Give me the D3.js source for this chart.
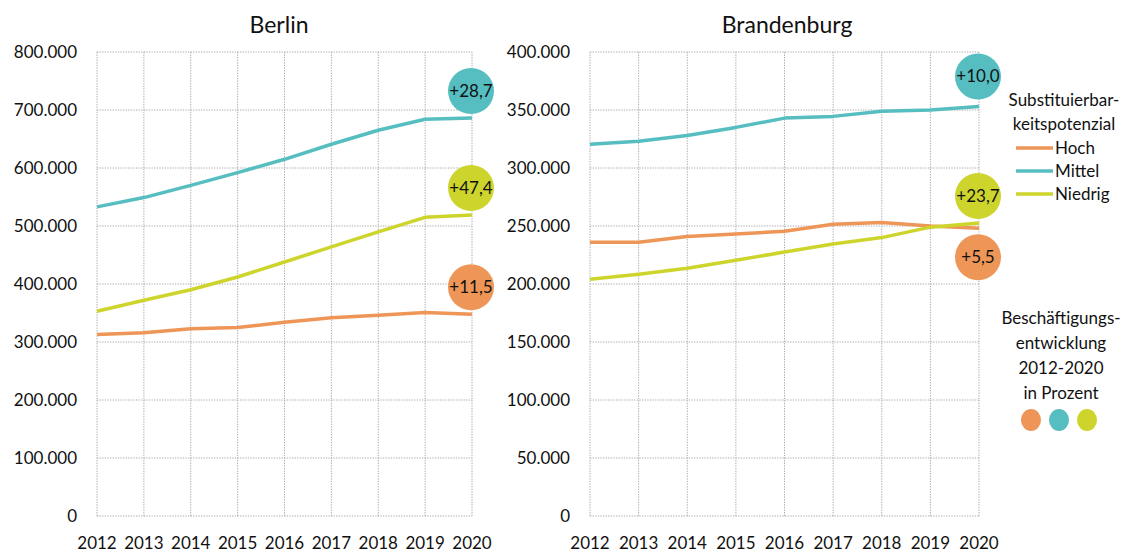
<!DOCTYPE html>
<html>
<head>
<meta charset="utf-8">
<script src="https://cdn.jsdelivr.net/npm/d3@7"></script>
<style>
  body { margin: 0; background: #fff; }
  text { font-family: Lato, "Open Sans", sans-serif; fill: #111; }
</style>
</head>
<body>
<div class="chart"></div>
<script>
// data
var years = [2012, 2013, 2014, 2015, 2016, 2017, 2018, 2019, 2020];
var seriesNames = ["Hoch", "Mittel", "Niedrig"];

var berlinHoch    = [313000, 316000, 323000, 325000, 334000, 342000, 346000, 351000, 348000];
var berlinMittel  = [533000, 549000, 570000, 592000, 615000, 641000, 665000, 684000, 686000];
var berlinNiedrig = [353000, 372000, 390000, 412000, 438000, 464000, 490000, 515000, 519000];
var berlinChange  = [11.5, 28.7, 47.4];

var brbHoch    = [236000, 236000, 241000, 243000, 245500, 251500, 253000, 250000, 248000];
var brbMittel  = [320500, 323000, 328000, 335000, 343000, 344500, 349000, 350000, 353000];
var brbNiedrig = [204000, 208500, 213500, 220500, 227500, 234500, 240000, 249000, 252500];
var brbChange  = [5.5, 10.0, 23.7];

var colors = ["#ee9658", "#56bec0", "#cdd52c"];

// german number format
var de = d3.formatLocale({ decimal: ",", thousands: ".", grouping: [3], currency: ["", " €"] });
var fmtNum = de.format(",.0f");
var fmtPct = de.format("+.1f");

var W = 1131, H = 554;
var svg = d3.select(".chart").append("svg")
  .attr("width", W).attr("height", H);

// one panel per region
function panel(opt) {
  var x = d3.scaleLinear().domain([years[0], years[years.length - 1]]).range([opt.x0, opt.x1]);
  var y = d3.scaleLinear().domain([0, opt.yMax]).range([516, 52]);
  var g = svg.append("g");

  // dotted grid incl. frame
  var ticks = d3.range(0, opt.yMax + 1, opt.yStep);
  g.selectAll(".hgrid").data(ticks).enter().append("line")
    .attr("x1", opt.x0).attr("x2", opt.x1)
    .attr("y1", d => y(d)).attr("y2", d => y(d))
    .attr("stroke", "#a8a8a8").attr("stroke-dasharray", "1.3,1.3");
  g.selectAll(".vgrid").data(years).enter().append("line")
    .attr("x1", d => x(d)).attr("x2", d => x(d))
    .attr("y1", y(0)).attr("y2", y(opt.yMax))
    .attr("stroke", "#a8a8a8").attr("stroke-dasharray", "1.3,1.3");

  // y labels
  g.selectAll(".ylab").data(ticks).enter().append("text")
    .attr("x", opt.x0 - 20).attr("y", d => y(d)).attr("dy", "0.35em")
    .attr("text-anchor", "end").style("font-size", "17px")
    .text(d => fmtNum(d));

  // x labels
  g.selectAll(".xlab").data(years).enter().append("text")
    .attr("x", d => x(d)).attr("y", 549)
    .attr("text-anchor", "middle").style("font-size", "17px")
    .text(d => d);

  // title
  g.append("text").attr("x", opt.titleX).attr("y", 33)
    .attr("text-anchor", "middle").style("font-size", "23px")
    .text(opt.title);

  var line = d3.line().x((d, i) => x(years[i])).y(d => y(d));
  opt.series.forEach(function (s, i) {
    g.append("path").datum(s)
      .attr("d", line).attr("fill", "none")
      .attr("stroke", colors[i]).attr("stroke-width", 3.5)
      .attr("stroke-linejoin", "round");
  });

  // change bubbles at the end of each line
  opt.series.forEach(function (s, i) {
    var cx = x(years[years.length - 1]) - 1;
    var cy = y(s[s.length - 1]) + opt.bubbleShift[i];
    g.append("circle").attr("cx", cx).attr("cy", cy).attr("r", 23).attr("fill", colors[i]);
    g.append("text").attr("x", cx).attr("y", cy).attr("dy", "0.35em")
      .attr("text-anchor", "middle").style("font-size", "17px")
      .text(fmtPct(opt.change[i]));
  });
}

panel({
  title: "Berlin", titleX: 279, x0: 97, x1: 472, yMax: 800000, yStep: 100000,
  series: [berlinHoch, berlinMittel, berlinNiedrig], change: berlinChange,
  bubbleShift: [-27, -27, -27]
});
panel({
  title: "Brandenburg", titleX: 787, x0: 590, x1: 979, yMax: 400000, yStep: 50000,
  series: [brbHoch, brbMittel, brbNiedrig], change: brbChange,
  bubbleShift: [29, -30, -27]
});

// legend
var leg = svg.append("g");
leg.selectAll(".lt").data(["Substituierbar-", "keitspotenzial"]).enter().append("text")
  .attr("x", 1064).attr("y", (d, i) => 106 + i * 24)
  .attr("text-anchor", "middle").style("font-size", "17px").text(d => d);
seriesNames.forEach(function (n, i) {
  var yy = 148 + i * 23;
  leg.append("line").attr("x1", 1016).attr("x2", 1053).attr("y1", yy).attr("y2", yy)
    .attr("stroke", colors[i]).attr("stroke-width", 3.5);
  leg.append("text").attr("x", 1055).attr("y", yy).attr("dy", "0.35em")
    .style("font-size", "17px").text(n);
});
leg.selectAll(".bt").data(["Beschäftigungs-", "entwicklung", "2012-2020", "in Prozent"]).enter().append("text")
  .attr("x", 1061).attr("y", (d, i) => 324 + i * 25)
  .attr("text-anchor", "middle").style("font-size", "17px").text(d => d);
leg.selectAll(".dot").data(colors).enter().append("ellipse")
  .attr("cx", (d, i) => 1031 + i * 28).attr("cy", 420)
  .attr("rx", 10).attr("ry", 11).attr("fill", d => d);
</script>
</body>
</html>
